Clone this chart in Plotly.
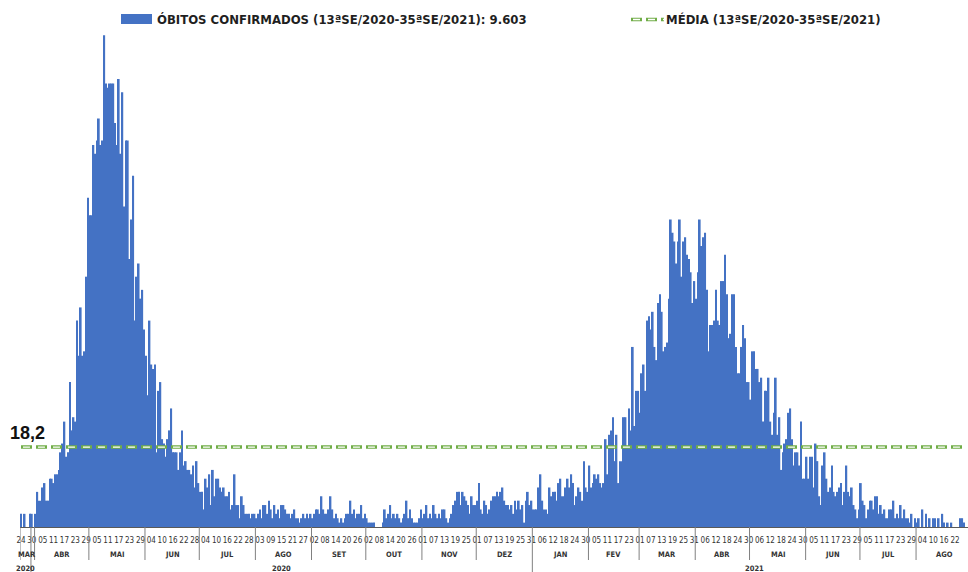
import pandas as pd
import plotly.graph_objects as go

# ---------------- data ----------------
START_DATE = "2020-03-24"
MEAN_VALUE = 18.2
TOTAL_LABEL = "9.603"

deaths_mar_mai_2020 = [
    3, 0, 3, 0, 0, 3, 3, 0, 3,
    8, 6, 6, 9, 10, 6, 6, 11, 11, 10, 12,
    12, 13, 17, 19, 24, 16, 17, 33, 22, 25,
    24, 47, 39, 50, 39, 40, 57, 75, 71, 71,
    87, 85, 88, 93, 87, 88, 112, 101, 100, 101, 101, 101, 92,
]
deaths_mai_jul_2020 = [
    87, 102, 85, 99, 73, 88, 88, 61, 70, 80,
    47, 57, 60, 52, 54, 45, 39, 30, 47, 37,
    36, 37, 17, 31, 33, 20, 19, 16, 20, 22,
    27, 17, 17, 17, 13, 17, 22, 14, 15, 13,
    13, 12, 14, 9, 15, 10, 8, 8, 4, 11,
    9, 12, 5, 13, 7, 11,
]
deaths_jul_dez_2020 = [
    11, 9, 8, 9, 7, 7, 8, 4, 5, 12, 5, 5,
    2, 7, 5, 3, 3, 3, 2, 3, 3, 2, 3, 4,
    2, 5, 5, 3, 6, 4, 2, 5, 3, 4, 2, 5,
    5, 4, 3, 3, 2, 3, 4, 2, 2, 1, 2, 3,
    2, 3, 2, 3, 2, 3, 4, 4, 3, 7, 4, 3,
    3, 4, 7, 4, 2, 3, 2, 1, 2, 1, 2, 3,
    3, 6, 3, 4, 2, 3, 3, 5, 2, 3, 2, 1,
    1, 1, 1, 0, 0, 0, 0, 1, 4, 2, 3,
    5, 2, 3, 2, 3, 2, 1, 2, 3, 6, 2, 4, 2,
    1, 1, 1, 2, 4, 2, 3, 5, 2, 3, 2, 5,
    3, 2, 3, 2, 4, 4, 2, 1, 2, 3, 5, 6, 8,
    8, 5, 8, 7, 6, 5, 3, 7, 5, 5, 6, 10,
    4, 3, 6, 5, 3, 4, 6, 7, 7, 8, 7, 8, 9,
    6, 5, 5, 4, 5, 3, 6, 4,
]
deaths_dez_2020_mai_2021 = [
    6, 4, 5, 1, 6, 8, 5, 6, 4, 4, 4, 9,
    12, 6, 4, 4, 3, 9, 7, 8, 8, 6, 10, 11,
    7, 7, 9, 11, 9, 12, 10, 5, 7, 9, 8, 6,
    15, 9, 8, 14, 9, 10, 12, 11, 12, 10, 9, 10,
    20, 12, 21, 22, 25, 15, 21, 10, 15, 15, 25, 25,
    18, 27, 22, 41, 23, 31, 31, 26, 35, 37, 31, 47,
    48, 45, 49, 41, 38, 51, 53, 49, 40, 41, 42, 52,
    70, 67, 65, 60, 65, 70, 57, 65, 66, 62, 61, 58,
    51, 56, 52, 58, 70, 64, 66, 67, 54, 40, 46, 46,
    47, 54, 47, 46, 56, 56, 62, 53, 43, 44, 53, 53,
    41, 35, 35, 41, 46, 43, 33, 33, 29, 40,
    40,
]
deaths_mai_ago_2021 = [
    36, 36, 33, 34, 24, 31, 31, 34, 24, 21, 26,
    34, 21, 25, 13, 17, 19, 20, 26, 27, 20, 14, 17,
    17, 14, 24, 11, 11, 16, 11, 16, 16, 9, 19, 15,
    7, 5, 14, 17, 11, 8, 9, 14, 8, 7, 8, 9,
    10, 5, 8, 14, 8, 7, 9, 5, 4, 2, 4, 10,
    6, 5, 2, 4, 6, 6, 4, 7, 7, 3, 5, 3,
    4, 2, 2, 4, 4, 6, 2, 3, 2, 5, 2, 4,
    2, 2, 1, 3, 0, 2, 1, 2, 0, 4, 0, 3,
    0, 2, 0, 2, 2, 0, 2, 0, 3, 1, 0, 1,
    0, 1, 0, 0, 0, 0, 2, 2, 1, 0,
]

MONTHS_PT = ["JAN", "FEV", "MAR", "ABR", "MAI", "JUN",
             "JUL", "AGO", "SET", "OUT", "NOV", "DEZ"]
YEAR_GROUPS = [("2020", "2020-03-24", "2020-03-29"),
               ("2020", "2020-03-30", "2020-12-31"),
               ("2021", "2021-01-01", "2021-09-02")]
LEGEND_BARS = f"ÓBITOS CONFIRMADOS (13ªSE/2020-35ªSE/2021): {TOTAL_LABEL}"
LEGEND_MEAN = "MÉDIA (13ªSE/2020-35ªSE/2021)"
MEAN_LABEL = "18,2"

deaths = (deaths_mar_mai_2020 + deaths_mai_jul_2020 + deaths_jul_dez_2020
          + deaths_dez_2020_mai_2021 + deaths_mai_ago_2021)
dates = pd.date_range(START_DATE, periods=len(deaths), freq="D")
mean_series = [MEAN_VALUE] * len(dates)

# ---------------- style ----------------
W, H = 968, 572
ML, MR, MT, MB = 20, 0, 0, 45
PW, PH = W - ML - MR, H - MT - MB
BAR_COLOR = "#4472C4"
GREEN = "#70AD47"
TXT = "#1f1f1f"
AX = "#333333"
FONT = "DejaVu Sans Condensed, DejaVu Sans, sans-serif"

def px_x(px):
    return (px - ML) / PW

def px_y(py):
    return (MT + PH - py) / PH

day = pd.Timedelta(days=1)
x_start = dates[0] - 0.55 * day
x_end = dates[0] + 523.2 * day

fig = go.Figure()
fig.add_trace(go.Bar(x=dates, y=deaths, marker=dict(color=BAR_COLOR, line=dict(width=0)),
                     name=LEGEND_BARS, showlegend=False))
fig.add_trace(go.Scatter(x=dates, y=mean_series, mode="lines",
                         line=dict(color=GREEN, width=3.6, dash="11px,4px"),
                         name=LEGEND_MEAN, showlegend=False))
fig.add_trace(go.Scatter(x=dates + pd.Timedelta(hours=26), y=mean_series, mode="lines",
                         line=dict(color="white", width=1.3, dash="7px,8px"),
                         showlegend=False, hoverinfo="skip"))

tick_dates = dates[::6]
tick_text = [d.strftime("%d") for d in tick_dates]

shapes = []
annotations = []

# month group dividers
month_starts = pd.date_range("2020-04-01", "2021-09-01", freq="MS")
for ms in month_starts:
    xb = ms - 0.5 * day
    if xb > x_end:
        break
    is_year = ms.month == 1
    shapes.append(dict(type="line", xref="x", yref="paper", x0=xb, x1=xb,
                       y0=0, y1=px_y(572 if is_year else 560),
                       line=dict(color="#808080", width=1)))
first_b = pd.Timestamp("2020-03-29") + 0.5 * day
shapes.append(dict(type="line", xref="x", yref="paper", x0=first_b, x1=first_b,
                   y0=0, y1=px_y(572), line=dict(color="#808080", width=1)))
shapes.append(dict(type="line", xref="x", yref="paper", x0=x_start, x1=x_start,
                   y0=0, y1=px_y(560), line=dict(color="#808080", width=1)))

m_cur = pd.Timestamp(dates[0])
end_all = pd.Timestamp("2021-09-02")
while m_cur <= end_all:
    m_end = (m_cur + pd.offsets.MonthEnd(0))
    if m_end > end_all:
        m_end = end_all
    center = m_cur + (m_end - m_cur) / 2
    if center < x_end:
        annotations.append(dict(x=center, y=px_y(554), xref="x", yref="paper",
                                text=f"<b>{MONTHS_PT[m_cur.month - 1]}</b>", showarrow=False,
                                font=dict(family=FONT, size=7.5, color=AX),
                                xanchor="center", yanchor="middle"))
    m_cur = m_end + day

for label, a, b in YEAR_GROUPS:
    ta, tb = pd.Timestamp(a), pd.Timestamp(b)
    center = ta + (tb - ta) / 2
    annotations.append(dict(x=center, y=px_y(568), xref="x", yref="paper",
                            text=f"<b>{label}</b>", showarrow=False,
                            font=dict(family=FONT, size=7.5, color=AX),
                            xanchor="center", yanchor="middle"))

# mean label
annotations.append(dict(x=px_x(8), y=px_y(433), xref="paper", yref="paper",
                        text=f"<b>{MEAN_LABEL}</b>", showarrow=False,
                        font=dict(family="Liberation Sans, Arial, sans-serif", size=18, color="#111"),
                        xanchor="left", yanchor="middle"))

# legend (manual)
shapes.append(dict(type="rect", xref="paper", yref="paper",
                   x0=px_x(121), x1=px_x(152), y0=px_y(24), y1=px_y(14),
                   fillcolor=BAR_COLOR, line=dict(width=0)))
annotations.append(dict(x=px_x(155), y=px_y(19.5), xref="paper", yref="paper",
                        text=f"<b>{LEGEND_BARS}</b>", showarrow=False,
                        font=dict(family=FONT, size=13, color=TXT),
                        xanchor="left", yanchor="middle"))
shapes.append(dict(type="line", xref="paper", yref="paper",
                   x0=px_x(631), x1=px_x(664), y0=px_y(19.5), y1=px_y(19.5),
                   line=dict(color=GREEN, width=3.6, dash="11px,4px")))
shapes.append(dict(type="line", xref="paper", yref="paper",
                   x0=px_x(633), x1=px_x(664), y0=px_y(19.5), y1=px_y(19.5),
                   line=dict(color="white", width=1.3, dash="7px,8px")))
annotations.append(dict(x=px_x(664), y=px_y(19.5), xref="paper", yref="paper",
                        text=f"<b>{LEGEND_MEAN}</b>", showarrow=False,
                        font=dict(family=FONT, size=13, color=TXT),
                        xanchor="left", yanchor="middle"))

fig.update_layout(
    width=W, height=H,
    margin=dict(l=ML, r=MR, t=MT, b=MB, pad=0, autoexpand=False),
    paper_bgcolor="white", plot_bgcolor="white",
    bargap=0.04,
    showlegend=False,
    hovermode=False,
    shapes=shapes,
    annotations=annotations,
    xaxis=dict(range=[x_start, x_end], type="date", showgrid=False, zeroline=False,
               automargin=False,
               showline=True, linecolor="#595959", linewidth=1,
               tickmode="array", tickvals=tick_dates, ticktext=tick_text,
               ticks="", tickangle=0, ticklabelstandoff=5,
               tickfont=dict(family=FONT, size=8, color=AX)),
    yaxis=dict(range=[0, 120], visible=False, showgrid=False, zeroline=False,
               automargin=False),
)

fig.write_html(
    "out.html",
    config={"displayModeBar": False},
    post_script="document.documentElement.style.margin='0';document.body.style.margin='0';"
                "document.body.style.overflow='hidden';",
)
